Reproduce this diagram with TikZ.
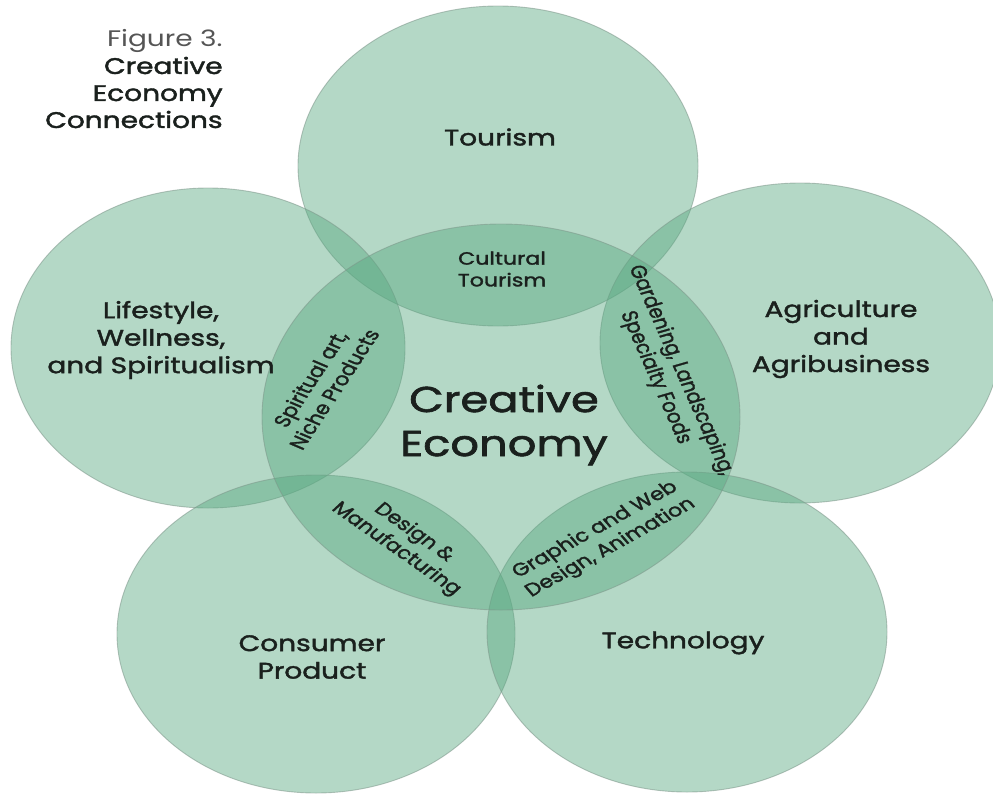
\documentclass[tikz,border=0pt]{standalone}
\usepackage{fontspec}
\setmainfont{Poppins}
\newfontfamily\medfont{Poppins}[FakeBold=1.6]
\definecolor{venn}{RGB}{89,169,129}
\definecolor{ink}{RGB}{26,32,29}
\definecolor{edge}{RGB}{125,150,138}
\definecolor{figgray}{RGB}{85,85,85}
\begin{document}
\begin{tikzpicture}[x=1pt,y=-1pt,
  blob/.style={fill=venn,fill opacity=0.45,draw=edge,draw opacity=0.55,line width=0.9pt},
  lab/.style={text=ink,align=center,font=\fontsize{22.5}{27.5}\medfont},
  lens/.style={text=ink,align=center,font=\fontsize{17.8}{21.7}\medfont},
  big/.style={text=ink,align=center,font=\fontsize{36}{44}\medfont}]
\useasboundingbox (0,0) rectangle (993,795);
\fill[white] (0,0) rectangle (993,795);
% circles
\path[blob] (498,166) ellipse [x radius=200pt, y radius=160pt];
\path[blob] (208,348) ellipse [x radius=197pt, y radius=160pt];
\path[blob] (800,343) ellipse [x radius=200pt, y radius=160pt];
\path[blob] (316,634) ellipse [x radius=199pt, y radius=159pt];
\path[blob] (687,632) ellipse [x radius=200pt, y radius=160pt];
\path[blob] (501,417) ellipse [x radius=239pt, y radius=193pt];
% texts (whole figure is stretched horizontally)
\begin{scope}[xscale=1.245, every node/.append style={transform shape}]
\node[anchor=east,align=right,text=ink,font=\fontsize{22.5}{27}\selectfont] (title) at ({227/1.245},79)
  {\textcolor{figgray}{Figure 3.}\\\medfont Creative\\\medfont Economy\\\medfont Connections};
\node[lab] (tourism) at ({500/1.245},137) {Tourism};
\node[lab] (lifestyle) at ({161/1.245},340) {Lifestyle,\\Wellness,\\and Spiritualism};
\node[lab] (agri) at ({841/1.245},339) {Agriculture\\and\\Agribusiness};
\node[lab] (consumer) at ({312/1.245},657) {Consumer\\Product};
\node[lab] (tech) at ({683/1.245},643) {Technology};
\node[big] (creative) at ({504/1.245},425) {Creative\\Economy};
\node[lens] (cultural) at ({502/1.245},269) {Cultural\\Tourism};
\node[lens,rotate=62] (spiritual) at ({322/1.245},384) {Spiritual art,\\Niche Products};
\node[lens,rotate=-70.3] (gardening) at ({668/1.245},374) {Gardening, Landscaping,\\Specialty Foods};
\node[lens,rotate=-41] (design) at ({405/1.245},541) {Design \&\\Manufacturing};
\node[lens,rotate=34.6] (graphic) at ({603/1.245},539) {Graphic and Web\\Design, Animation};
\end{scope}
\end{tikzpicture}
\end{document}
